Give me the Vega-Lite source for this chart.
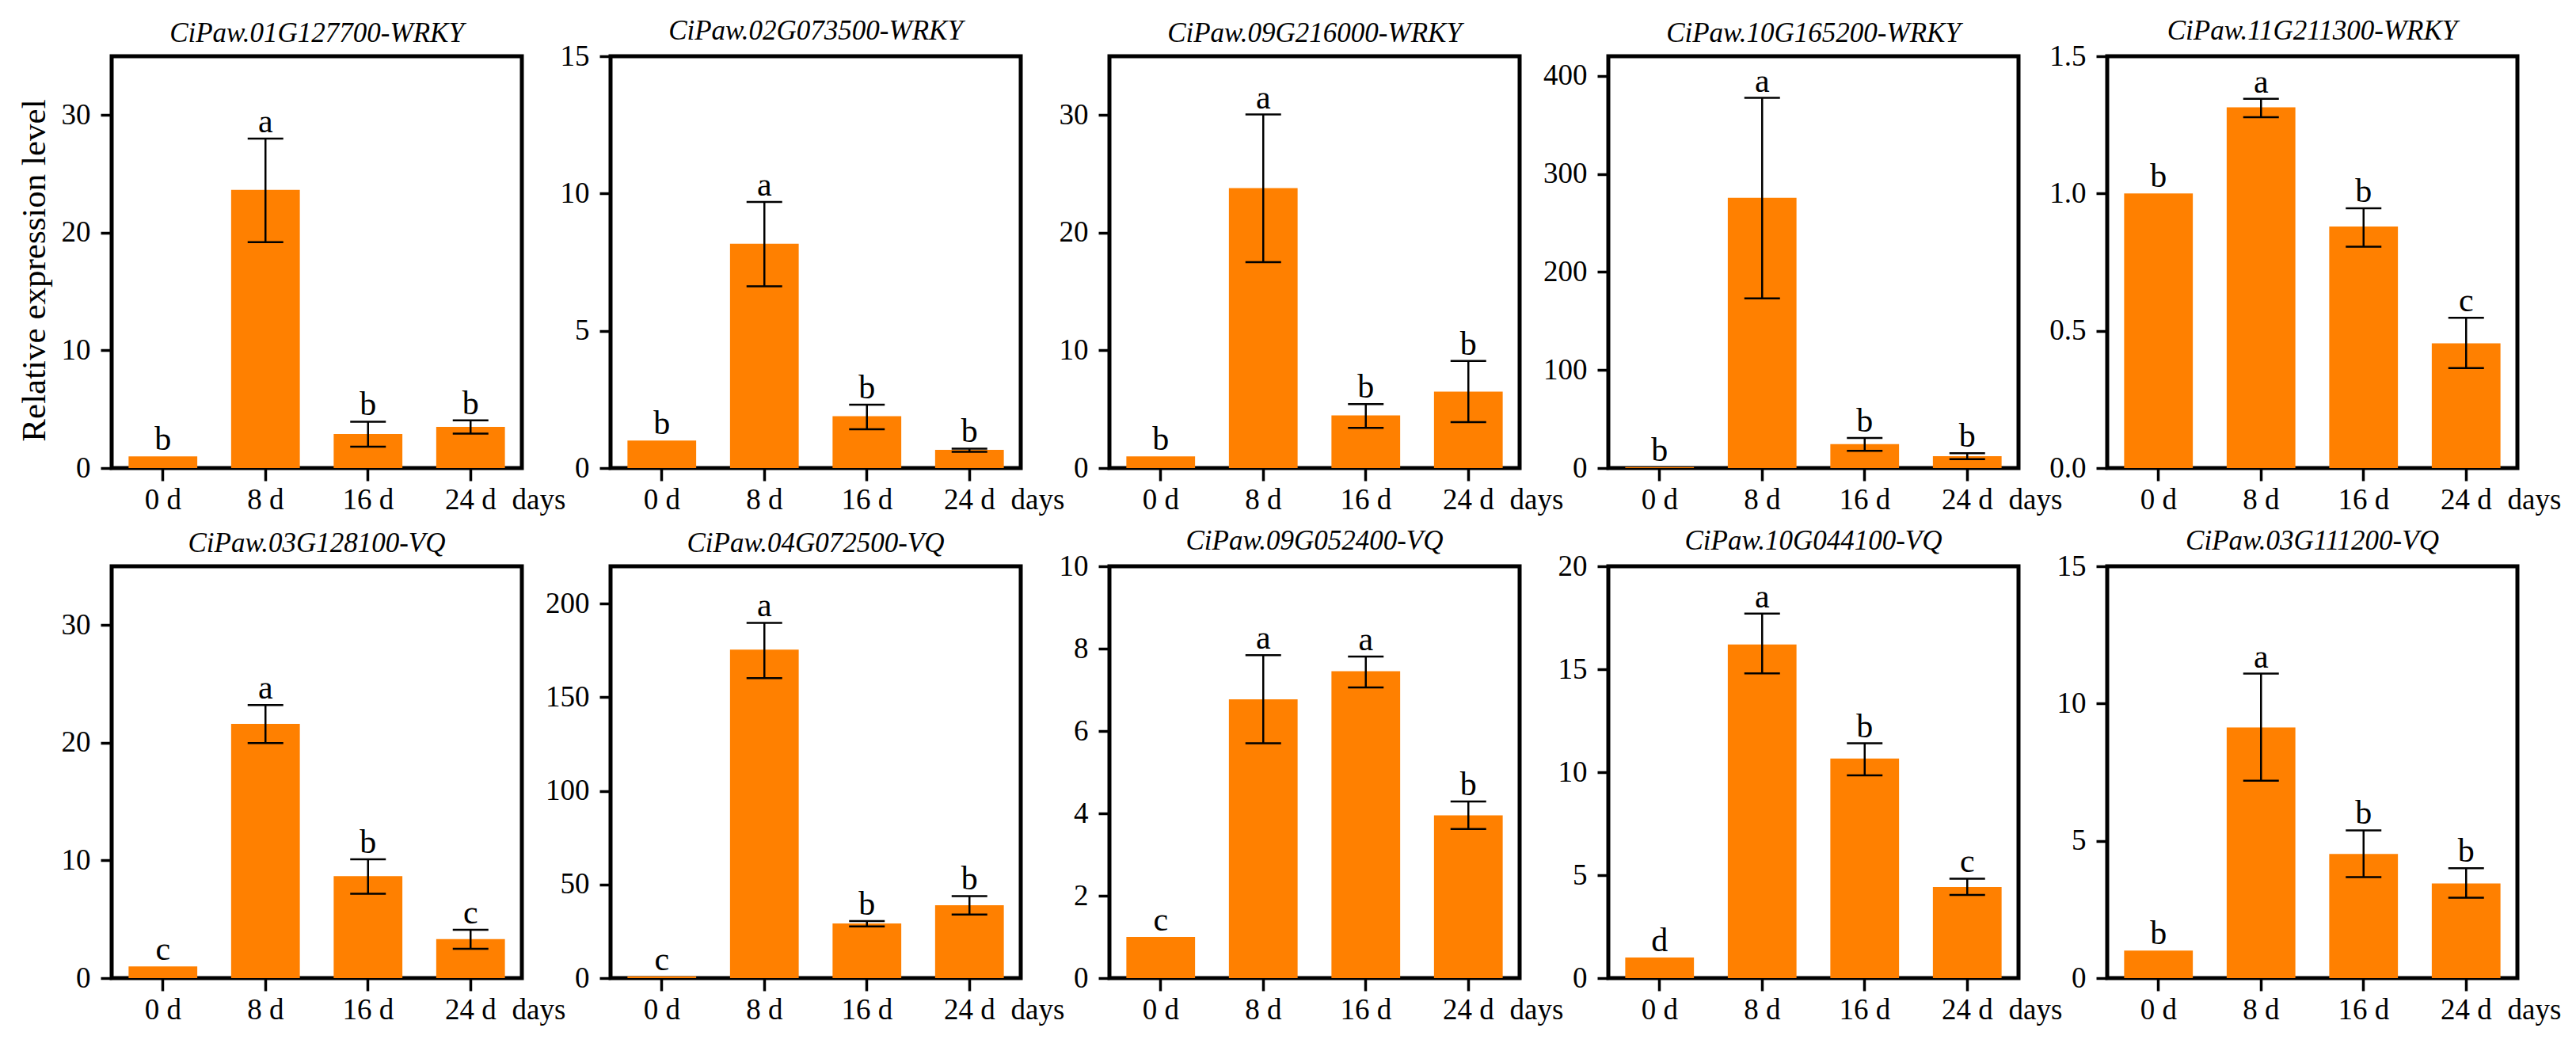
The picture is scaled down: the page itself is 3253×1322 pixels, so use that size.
{
  "$schema": "https://vega.github.io/schema/vega-lite/v6.json",
  "background": "white",
  "padding": {"left": 19, "top": 19, "right": 0, "bottom": 0},
  "data": {
    "values": [
      {"gene": "CiPaw.01G127700-WRKY", "day": "0 d", "mean": 1, "lo": 1, "hi": 1, "letter": "b"},
      {"gene": "CiPaw.01G127700-WRKY", "day": "8 d", "mean": 23.65, "lo": 19.2, "hi": 28.0, "letter": "a"},
      {"gene": "CiPaw.01G127700-WRKY", "day": "16 d", "mean": 2.9, "lo": 1.82, "hi": 3.94, "letter": "b"},
      {"gene": "CiPaw.01G127700-WRKY", "day": "24 d", "mean": 3.5, "lo": 2.93, "hi": 4.05, "letter": "b"},
      {"gene": "CiPaw.02G073500-WRKY", "day": "0 d", "mean": 1, "lo": 1, "hi": 1, "letter": "b"},
      {"gene": "CiPaw.02G073500-WRKY", "day": "8 d", "mean": 8.17, "lo": 6.62, "hi": 9.69, "letter": "a"},
      {"gene": "CiPaw.02G073500-WRKY", "day": "16 d", "mean": 1.89, "lo": 1.41, "hi": 2.31, "letter": "b"},
      {"gene": "CiPaw.02G073500-WRKY", "day": "24 d", "mean": 0.66, "lo": 0.59, "hi": 0.71, "letter": "b"},
      {"gene": "CiPaw.09G216000-WRKY", "day": "0 d", "mean": 1, "lo": 1, "hi": 1, "letter": "b"},
      {"gene": "CiPaw.09G216000-WRKY", "day": "8 d", "mean": 23.8, "lo": 17.5, "hi": 30.05, "letter": "a"},
      {"gene": "CiPaw.09G216000-WRKY", "day": "16 d", "mean": 4.48, "lo": 3.42, "hi": 5.43, "letter": "b"},
      {"gene": "CiPaw.09G216000-WRKY", "day": "24 d", "mean": 6.5, "lo": 3.9, "hi": 9.1, "letter": "b"},
      {"gene": "CiPaw.10G165200-WRKY", "day": "0 d", "mean": 1, "lo": 1, "hi": 1, "letter": "b"},
      {"gene": "CiPaw.10G165200-WRKY", "day": "8 d", "mean": 275.6, "lo": 173, "hi": 377.5, "letter": "a"},
      {"gene": "CiPaw.10G165200-WRKY", "day": "16 d", "mean": 24.5, "lo": 17.5, "hi": 30.6, "letter": "b"},
      {"gene": "CiPaw.10G165200-WRKY", "day": "24 d", "mean": 12.1, "lo": 9.1, "hi": 15.1, "letter": "b"},
      {"gene": "CiPaw.11G211300-WRKY", "day": "0 d", "mean": 1, "lo": 1, "hi": 1, "letter": "b"},
      {"gene": "CiPaw.11G211300-WRKY", "day": "8 d", "mean": 1.314, "lo": 1.278, "hi": 1.345, "letter": "a"},
      {"gene": "CiPaw.11G211300-WRKY", "day": "16 d", "mean": 0.88, "lo": 0.806, "hi": 0.946, "letter": "b"},
      {"gene": "CiPaw.11G211300-WRKY", "day": "24 d", "mean": 0.454, "lo": 0.364, "hi": 0.547, "letter": "c"},
      {"gene": "CiPaw.03G128100-VQ", "day": "0 d", "mean": 1, "lo": 1, "hi": 1, "letter": "c"},
      {"gene": "CiPaw.03G128100-VQ", "day": "8 d", "mean": 21.6, "lo": 19.97, "hi": 23.2, "letter": "a"},
      {"gene": "CiPaw.03G128100-VQ", "day": "16 d", "mean": 8.67, "lo": 7.17, "hi": 10.1, "letter": "b"},
      {"gene": "CiPaw.03G128100-VQ", "day": "24 d", "mean": 3.32, "lo": 2.49, "hi": 4.1, "letter": "c"},
      {"gene": "CiPaw.04G072500-VQ", "day": "0 d", "mean": 1, "lo": 1, "hi": 1, "letter": "c"},
      {"gene": "CiPaw.04G072500-VQ", "day": "8 d", "mean": 175.5, "lo": 160.2, "hi": 189.8, "letter": "a"},
      {"gene": "CiPaw.04G072500-VQ", "day": "16 d", "mean": 29.2, "lo": 27.6, "hi": 30.5, "letter": "b"},
      {"gene": "CiPaw.04G072500-VQ", "day": "24 d", "mean": 38.9, "lo": 34.0, "hi": 43.8, "letter": "b"},
      {"gene": "CiPaw.09G052400-VQ", "day": "0 d", "mean": 1, "lo": 1, "hi": 1, "letter": "c"},
      {"gene": "CiPaw.09G052400-VQ", "day": "8 d", "mean": 6.77, "lo": 5.7, "hi": 7.84, "letter": "a"},
      {"gene": "CiPaw.09G052400-VQ", "day": "16 d", "mean": 7.45, "lo": 7.06, "hi": 7.81, "letter": "a"},
      {"gene": "CiPaw.09G052400-VQ", "day": "24 d", "mean": 3.95, "lo": 3.62, "hi": 4.29, "letter": "b"},
      {"gene": "CiPaw.10G044100-VQ", "day": "0 d", "mean": 1, "lo": 1, "hi": 1, "letter": "d"},
      {"gene": "CiPaw.10G044100-VQ", "day": "8 d", "mean": 16.2, "lo": 14.8, "hi": 17.7, "letter": "a"},
      {"gene": "CiPaw.10G044100-VQ", "day": "16 d", "mean": 10.66, "lo": 9.85, "hi": 11.4, "letter": "b"},
      {"gene": "CiPaw.10G044100-VQ", "day": "24 d", "mean": 4.42, "lo": 4.04, "hi": 4.83, "letter": "c"},
      {"gene": "CiPaw.03G111200-VQ", "day": "0 d", "mean": 1, "lo": 1, "hi": 1, "letter": "b"},
      {"gene": "CiPaw.03G111200-VQ", "day": "8 d", "mean": 9.13, "lo": 7.19, "hi": 11.09, "letter": "a"},
      {"gene": "CiPaw.03G111200-VQ", "day": "16 d", "mean": 4.52, "lo": 3.68, "hi": 5.38, "letter": "b"},
      {"gene": "CiPaw.03G111200-VQ", "day": "24 d", "mean": 3.45, "lo": 2.93, "hi": 4.0, "letter": "b"}
    ]
  },
  "bounds": "flush",
  "columns": 5,
  "spacing": {"row": 124, "column": 112},
  "concat": [
    {
      "title": {"text": "CiPaw.01G127700-WRKY"},
      "width": 518, "height": 520,
      "transform": [{"filter": {"field": "gene", "equal": "CiPaw.01G127700-WRKY"}}],
      "encoding": {"x": {"field": "day", "type": "nominal", "sort": ["0 d", "8 d", "16 d", "24 d"], "title": "days"}},
      "layer": [
        {"mark": {"type": "bar", "color": "#FF8000", "opacity": 1},
         "encoding": {"y": {"field": "mean", "type": "quantitative", "scale": {"domain": [0, 35], "nice": false},
           "axis": {"values": [0, 10, 20, 30], "title": "Relative expression level", "titleY": 270}}}},
        {"mark": {"type": "rule", "color": "black", "strokeWidth": 2.5},
         "encoding": {"y": {"field": "lo", "type": "quantitative"}, "y2": {"field": "hi"}}},
        {"transform": [{"filter": "datum.hi > datum.lo"}],
         "mark": {"type": "tick", "color": "black", "size": 45, "thickness": 2.5, "opacity": 1},
         "encoding": {"y": {"field": "hi", "type": "quantitative"}}},
        {"transform": [{"filter": "datum.hi > datum.lo"}],
         "mark": {"type": "tick", "color": "black", "size": 45, "thickness": 2.5, "opacity": 1},
         "encoding": {"y": {"field": "lo", "type": "quantitative"}}},
        {"mark": {"type": "text", "baseline": "alphabetic", "dy": -8, "fontSize": 42, "color": "black"},
         "encoding": {"y": {"field": "hi", "type": "quantitative"}, "text": {"field": "letter"}}}
      ]
    },
    {
      "title": {"text": "CiPaw.02G073500-WRKY", "dy": 16},
      "width": 518, "height": 520,
      "transform": [{"filter": {"field": "gene", "equal": "CiPaw.02G073500-WRKY"}}],
      "encoding": {"x": {"field": "day", "type": "nominal", "sort": ["0 d", "8 d", "16 d", "24 d"], "title": "days"}},
      "layer": [
        {"mark": {"type": "bar", "color": "#FF8000", "opacity": 1},
         "encoding": {"y": {"field": "mean", "type": "quantitative", "scale": {"domain": [0, 15], "nice": false},
           "axis": {"values": [0, 5, 10, 15], "title": null}}}},
        {"mark": {"type": "rule", "color": "black", "strokeWidth": 2.5},
         "encoding": {"y": {"field": "lo", "type": "quantitative"}, "y2": {"field": "hi"}}},
        {"transform": [{"filter": "datum.hi > datum.lo"}],
         "mark": {"type": "tick", "color": "black", "size": 45, "thickness": 2.5, "opacity": 1},
         "encoding": {"y": {"field": "hi", "type": "quantitative"}}},
        {"transform": [{"filter": "datum.hi > datum.lo"}],
         "mark": {"type": "tick", "color": "black", "size": 45, "thickness": 2.5, "opacity": 1},
         "encoding": {"y": {"field": "lo", "type": "quantitative"}}},
        {"mark": {"type": "text", "baseline": "alphabetic", "dy": -8, "fontSize": 42, "color": "black"},
         "encoding": {"y": {"field": "hi", "type": "quantitative"}, "text": {"field": "letter"}}}
      ]
    },
    {
      "title": {"text": "CiPaw.09G216000-WRKY"},
      "width": 518, "height": 520,
      "transform": [{"filter": {"field": "gene", "equal": "CiPaw.09G216000-WRKY"}}],
      "encoding": {"x": {"field": "day", "type": "nominal", "sort": ["0 d", "8 d", "16 d", "24 d"], "title": "days"}},
      "layer": [
        {"mark": {"type": "bar", "color": "#FF8000", "opacity": 1},
         "encoding": {"y": {"field": "mean", "type": "quantitative", "scale": {"domain": [0, 35], "nice": false},
           "axis": {"values": [0, 10, 20, 30], "title": null}}}},
        {"mark": {"type": "rule", "color": "black", "strokeWidth": 2.5},
         "encoding": {"y": {"field": "lo", "type": "quantitative"}, "y2": {"field": "hi"}}},
        {"transform": [{"filter": "datum.hi > datum.lo"}],
         "mark": {"type": "tick", "color": "black", "size": 45, "thickness": 2.5, "opacity": 1},
         "encoding": {"y": {"field": "hi", "type": "quantitative"}}},
        {"transform": [{"filter": "datum.hi > datum.lo"}],
         "mark": {"type": "tick", "color": "black", "size": 45, "thickness": 2.5, "opacity": 1},
         "encoding": {"y": {"field": "lo", "type": "quantitative"}}},
        {"mark": {"type": "text", "baseline": "alphabetic", "dy": -8, "fontSize": 42, "color": "black"},
         "encoding": {"y": {"field": "hi", "type": "quantitative"}, "text": {"field": "letter"}}}
      ]
    },
    {
      "title": {"text": "CiPaw.10G165200-WRKY"},
      "width": 518, "height": 520,
      "transform": [{"filter": {"field": "gene", "equal": "CiPaw.10G165200-WRKY"}}],
      "encoding": {"x": {"field": "day", "type": "nominal", "sort": ["0 d", "8 d", "16 d", "24 d"], "title": "days"}},
      "layer": [
        {"mark": {"type": "bar", "color": "#FF8000", "opacity": 1},
         "encoding": {"y": {"field": "mean", "type": "quantitative", "scale": {"domain": [0, 420], "nice": false},
           "axis": {"values": [0, 100, 200, 300, 400], "title": null}}}},
        {"mark": {"type": "rule", "color": "black", "strokeWidth": 2.5},
         "encoding": {"y": {"field": "lo", "type": "quantitative"}, "y2": {"field": "hi"}}},
        {"transform": [{"filter": "datum.hi > datum.lo"}],
         "mark": {"type": "tick", "color": "black", "size": 45, "thickness": 2.5, "opacity": 1},
         "encoding": {"y": {"field": "hi", "type": "quantitative"}}},
        {"transform": [{"filter": "datum.hi > datum.lo"}],
         "mark": {"type": "tick", "color": "black", "size": 45, "thickness": 2.5, "opacity": 1},
         "encoding": {"y": {"field": "lo", "type": "quantitative"}}},
        {"mark": {"type": "text", "baseline": "alphabetic", "dy": -8, "fontSize": 42, "color": "black"},
         "encoding": {"y": {"field": "hi", "type": "quantitative"}, "text": {"field": "letter"}}}
      ]
    },
    {
      "title": {"text": "CiPaw.11G211300-WRKY", "dy": 16},
      "width": 518, "height": 520,
      "transform": [{"filter": {"field": "gene", "equal": "CiPaw.11G211300-WRKY"}}],
      "encoding": {"x": {"field": "day", "type": "nominal", "sort": ["0 d", "8 d", "16 d", "24 d"], "title": "days"}},
      "layer": [
        {"mark": {"type": "bar", "color": "#FF8000", "opacity": 1},
         "encoding": {"y": {"field": "mean", "type": "quantitative", "scale": {"domain": [0, 1.5], "nice": false},
           "axis": {"values": [0, 0.5, 1, 1.5], "format": ".1f", "title": null}}}},
        {"mark": {"type": "rule", "color": "black", "strokeWidth": 2.5},
         "encoding": {"y": {"field": "lo", "type": "quantitative"}, "y2": {"field": "hi"}}},
        {"transform": [{"filter": "datum.hi > datum.lo"}],
         "mark": {"type": "tick", "color": "black", "size": 45, "thickness": 2.5, "opacity": 1},
         "encoding": {"y": {"field": "hi", "type": "quantitative"}}},
        {"transform": [{"filter": "datum.hi > datum.lo"}],
         "mark": {"type": "tick", "color": "black", "size": 45, "thickness": 2.5, "opacity": 1},
         "encoding": {"y": {"field": "lo", "type": "quantitative"}}},
        {"mark": {"type": "text", "baseline": "alphabetic", "dy": -8, "fontSize": 42, "color": "black"},
         "encoding": {"y": {"field": "hi", "type": "quantitative"}, "text": {"field": "letter"}}}
      ]
    },
    {
      "title": {"text": "CiPaw.03G128100-VQ"},
      "width": 518, "height": 520,
      "transform": [{"filter": {"field": "gene", "equal": "CiPaw.03G128100-VQ"}}],
      "encoding": {"x": {"field": "day", "type": "nominal", "sort": ["0 d", "8 d", "16 d", "24 d"], "title": "days"}},
      "layer": [
        {"mark": {"type": "bar", "color": "#FF8000", "opacity": 1},
         "encoding": {"y": {"field": "mean", "type": "quantitative", "scale": {"domain": [0, 35], "nice": false},
           "axis": {"values": [0, 10, 20, 30], "title": null}}}},
        {"mark": {"type": "rule", "color": "black", "strokeWidth": 2.5},
         "encoding": {"y": {"field": "lo", "type": "quantitative"}, "y2": {"field": "hi"}}},
        {"transform": [{"filter": "datum.hi > datum.lo"}],
         "mark": {"type": "tick", "color": "black", "size": 45, "thickness": 2.5, "opacity": 1},
         "encoding": {"y": {"field": "hi", "type": "quantitative"}}},
        {"transform": [{"filter": "datum.hi > datum.lo"}],
         "mark": {"type": "tick", "color": "black", "size": 45, "thickness": 2.5, "opacity": 1},
         "encoding": {"y": {"field": "lo", "type": "quantitative"}}},
        {"mark": {"type": "text", "baseline": "alphabetic", "dy": -8, "fontSize": 42, "color": "black"},
         "encoding": {"y": {"field": "hi", "type": "quantitative"}, "text": {"field": "letter"}}}
      ]
    },
    {
      "title": {"text": "CiPaw.04G072500-VQ"},
      "width": 518, "height": 520,
      "transform": [{"filter": {"field": "gene", "equal": "CiPaw.04G072500-VQ"}}],
      "encoding": {"x": {"field": "day", "type": "nominal", "sort": ["0 d", "8 d", "16 d", "24 d"], "title": "days"}},
      "layer": [
        {"mark": {"type": "bar", "color": "#FF8000", "opacity": 1},
         "encoding": {"y": {"field": "mean", "type": "quantitative", "scale": {"domain": [0, 220], "nice": false},
           "axis": {"values": [0, 50, 100, 150, 200], "title": null}}}},
        {"mark": {"type": "rule", "color": "black", "strokeWidth": 2.5},
         "encoding": {"y": {"field": "lo", "type": "quantitative"}, "y2": {"field": "hi"}}},
        {"transform": [{"filter": "datum.hi > datum.lo"}],
         "mark": {"type": "tick", "color": "black", "size": 45, "thickness": 2.5, "opacity": 1},
         "encoding": {"y": {"field": "hi", "type": "quantitative"}}},
        {"transform": [{"filter": "datum.hi > datum.lo"}],
         "mark": {"type": "tick", "color": "black", "size": 45, "thickness": 2.5, "opacity": 1},
         "encoding": {"y": {"field": "lo", "type": "quantitative"}}},
        {"mark": {"type": "text", "baseline": "alphabetic", "dy": -8, "fontSize": 42, "color": "black"},
         "encoding": {"y": {"field": "hi", "type": "quantitative"}, "text": {"field": "letter"}}}
      ]
    },
    {
      "title": {"text": "CiPaw.09G052400-VQ", "dy": 16},
      "width": 518, "height": 520,
      "transform": [{"filter": {"field": "gene", "equal": "CiPaw.09G052400-VQ"}}],
      "encoding": {"x": {"field": "day", "type": "nominal", "sort": ["0 d", "8 d", "16 d", "24 d"], "title": "days"}},
      "layer": [
        {"mark": {"type": "bar", "color": "#FF8000", "opacity": 1},
         "encoding": {"y": {"field": "mean", "type": "quantitative", "scale": {"domain": [0, 10], "nice": false},
           "axis": {"values": [0, 2, 4, 6, 8, 10], "title": null}}}},
        {"mark": {"type": "rule", "color": "black", "strokeWidth": 2.5},
         "encoding": {"y": {"field": "lo", "type": "quantitative"}, "y2": {"field": "hi"}}},
        {"transform": [{"filter": "datum.hi > datum.lo"}],
         "mark": {"type": "tick", "color": "black", "size": 45, "thickness": 2.5, "opacity": 1},
         "encoding": {"y": {"field": "hi", "type": "quantitative"}}},
        {"transform": [{"filter": "datum.hi > datum.lo"}],
         "mark": {"type": "tick", "color": "black", "size": 45, "thickness": 2.5, "opacity": 1},
         "encoding": {"y": {"field": "lo", "type": "quantitative"}}},
        {"mark": {"type": "text", "baseline": "alphabetic", "dy": -8, "fontSize": 42, "color": "black"},
         "encoding": {"y": {"field": "hi", "type": "quantitative"}, "text": {"field": "letter"}}}
      ]
    },
    {
      "title": {"text": "CiPaw.10G044100-VQ", "dy": 16},
      "width": 518, "height": 520,
      "transform": [{"filter": {"field": "gene", "equal": "CiPaw.10G044100-VQ"}}],
      "encoding": {"x": {"field": "day", "type": "nominal", "sort": ["0 d", "8 d", "16 d", "24 d"], "title": "days"}},
      "layer": [
        {"mark": {"type": "bar", "color": "#FF8000", "opacity": 1},
         "encoding": {"y": {"field": "mean", "type": "quantitative", "scale": {"domain": [0, 20], "nice": false},
           "axis": {"values": [0, 5, 10, 15, 20], "title": null}}}},
        {"mark": {"type": "rule", "color": "black", "strokeWidth": 2.5},
         "encoding": {"y": {"field": "lo", "type": "quantitative"}, "y2": {"field": "hi"}}},
        {"transform": [{"filter": "datum.hi > datum.lo"}],
         "mark": {"type": "tick", "color": "black", "size": 45, "thickness": 2.5, "opacity": 1},
         "encoding": {"y": {"field": "hi", "type": "quantitative"}}},
        {"transform": [{"filter": "datum.hi > datum.lo"}],
         "mark": {"type": "tick", "color": "black", "size": 45, "thickness": 2.5, "opacity": 1},
         "encoding": {"y": {"field": "lo", "type": "quantitative"}}},
        {"mark": {"type": "text", "baseline": "alphabetic", "dy": -8, "fontSize": 42, "color": "black"},
         "encoding": {"y": {"field": "hi", "type": "quantitative"}, "text": {"field": "letter"}}}
      ]
    },
    {
      "title": {"text": "CiPaw.03G111200-VQ", "dy": 16},
      "width": 518, "height": 520,
      "transform": [{"filter": {"field": "gene", "equal": "CiPaw.03G111200-VQ"}}],
      "encoding": {"x": {"field": "day", "type": "nominal", "sort": ["0 d", "8 d", "16 d", "24 d"], "title": "days"}},
      "layer": [
        {"mark": {"type": "bar", "color": "#FF8000", "opacity": 1},
         "encoding": {"y": {"field": "mean", "type": "quantitative", "scale": {"domain": [0, 15], "nice": false},
           "axis": {"values": [0, 5, 10, 15], "title": null}}}},
        {"mark": {"type": "rule", "color": "black", "strokeWidth": 2.5},
         "encoding": {"y": {"field": "lo", "type": "quantitative"}, "y2": {"field": "hi"}}},
        {"transform": [{"filter": "datum.hi > datum.lo"}],
         "mark": {"type": "tick", "color": "black", "size": 45, "thickness": 2.5, "opacity": 1},
         "encoding": {"y": {"field": "hi", "type": "quantitative"}}},
        {"transform": [{"filter": "datum.hi > datum.lo"}],
         "mark": {"type": "tick", "color": "black", "size": 45, "thickness": 2.5, "opacity": 1},
         "encoding": {"y": {"field": "lo", "type": "quantitative"}}},
        {"mark": {"type": "text", "baseline": "alphabetic", "dy": -8, "fontSize": 42, "color": "black"},
         "encoding": {"y": {"field": "hi", "type": "quantitative"}, "text": {"field": "letter"}}}
      ]
    }
  ],
  "config": {
    "font": "Liberation Serif",
    "view": {"stroke": "black", "strokeWidth": 5},
    "scale": {"bandPaddingInner": 0.33, "bandPaddingOuter": 0.165},
    "text": {"font": "Liberation Serif"},
    "axis": {
      "domain": false, "grid": false, "ticks": true, "tickColor": "black", "tickWidth": 3.5,
      "labelFont": "Liberation Serif", "labelFontSize": 37, "labelColor": "black",
      "labelOverlap": false, "labelFlush": false,
      "titleFont": "Liberation Serif", "titleFontWeight": "normal", "titleColor": "black"
    },
    "axisX": {
      "tickSize": 16, "labelAngle": 0, "labelBaseline": "alphabetic", "labelPadding": 35,
      "titleFontSize": 37, "titleAlign": "left", "titleBaseline": "alphabetic", "titleX": 505, "titleY": 51
    },
    "axisY": {"tickSize": 14, "labelPadding": 13, "titleFontSize": 43, "titlePadding": 12},
    "title": {
      "font": "Liberation Serif", "fontStyle": "italic", "fontWeight": "normal", "fontSize": 35,
      "color": "black", "anchor": "middle", "frame": "group", "baseline": "alphabetic", "offset": 11
    }
  }
}
